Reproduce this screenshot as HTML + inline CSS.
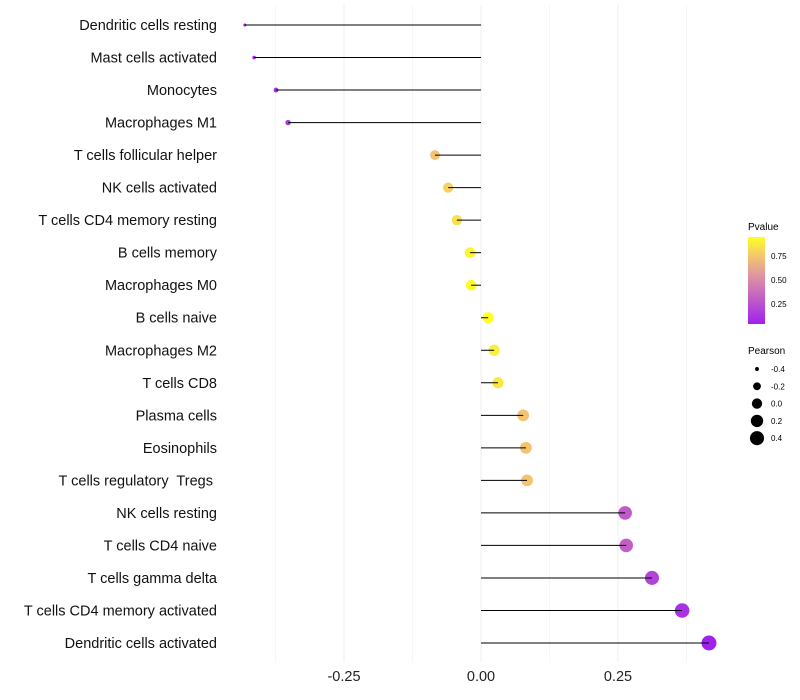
<!DOCTYPE html>
<html><head><meta charset="utf-8"><style>
body{margin:0;background:#fff;font-family:"Liberation Sans",sans-serif}
svg{display:block}
text{white-space:pre}
</style></head><body>
<svg id="chart" width="800" height="700">
<defs><linearGradient id="pg" x1="0" y1="1" x2="0" y2="0">
<stop offset="0" stop-color="#A020F0"/><stop offset="0.5" stop-color="#D88AA8"/><stop offset="0.75" stop-color="#F2BE78"/><stop offset="1" stop-color="#FFFF22"/></linearGradient></defs>
<g id="grid"></g><g id="marks"></g><g id="stems"></g><g id="ylab"></g><g id="xlab"></g>
<g>
<text x="748" y="230" font-size="10">Pvalue</text>
<rect x="748" y="237" width="17" height="87" fill="url(#pg)"/>
<text x="771" y="259" font-size="8">0.75</text>
<text x="771" y="283" font-size="8">0.50</text>
<text x="771" y="307" font-size="8">0.25</text>
<text x="748" y="354" font-size="10">Pearson</text>
<g id="sizeleg"></g>
</g>
</svg>
<script>
const categories=["Dendritic cells resting","Mast cells activated","Monocytes","Macrophages M1","T cells follicular helper","NK cells activated","T cells CD4 memory resting","B cells memory","Macrophages M0","B cells naive","Macrophages M2","T cells CD8","Plasma cells","Eosinophils","T cells regulatory  Tregs ","NK cells resting","T cells CD4 naive","T cells gamma delta","T cells CD4 memory activated","Dendritic cells activated"];
const pearson=[-0.431,-0.414,-0.374,-0.352,-0.084,-0.060,-0.044,-0.020,-0.018,0.013,0.024,0.031,0.077,0.082,0.084,0.263,0.265,0.312,0.367,0.416];
const pvalue=[0.05,0.07,0.1,0.15,0.75,0.8,0.85,0.93,0.95,0.96,0.9,0.88,0.75,0.75,0.75,0.3,0.32,0.2,0.12,0.05];
const xTicks=[-0.25,0,0.25];
const xTickLabels=["-0.25","0.00","0.25"];
const sizeLegend=[-0.4,-0.2,0.0,0.2,0.4];
const NS="http://www.w3.org/2000/svg";
const xs=v=>481+v*548;
const ys=i=>25+i*(618/19);
const rs=v=>Math.sqrt(Math.max(1.8,29.6+63.5*v));
function mix(a,b,t){return a.map((x,i)=>Math.round(x+(b[i]-x)*t));}
const stops=[[0,[160,32,240]],[0.5,[216,138,168]],[0.75,[242,190,120]],[1,[255,255,34]]];
function col(p){const t=Math.min(1,Math.max(0,(p-0.05)/0.91));for(let i=1;i<stops.length;i++){if(t<=stops[i][0]){const a=stops[i-1],b=stops[i];const c=mix(a[1],b[1],(t-a[0])/(b[0]-a[0]));return`rgb(${c})`;}}return"rgb(255,255,34)";}
function el(t,a,p){const e=document.createElementNS(NS,t);for(const k in a)e.setAttribute(k,a[k]);p.appendChild(e);return e;}
const grid=document.getElementById('grid');
[-0.375,-0.25,-0.125,0,0.125,0.25,0.375].forEach(v=>{
const l=el('line',{x1:xs(v),x2:xs(v),y1:5,y2:662,stroke:Math.abs(v*8)%2===1?'#f6f6f6':'#efefef','stroke-width':1},grid);


});
const marks=document.getElementById('marks'),stems=document.getElementById('stems'),yl=document.getElementById('ylab'),xl=document.getElementById('xlab');
categories.forEach((c,i)=>{
const y=ys(i);
const d=el('circle',{cx:xs(pearson[i]),cy:y,r:rs(pearson[i]),fill:col(pvalue[i])},marks);


const s=el('line',{x1:xs(0),x2:xs(pearson[i]),y1:y,y2:y,stroke:'#000','stroke-width':1},stems);


const t=el('text',{x:217,y:y+5,'text-anchor':'end','font-size':14.5,fill:'#111'},yl);
t.textContent=c;


});
xTicks.forEach((v,i)=>{
const t=el('text',{x:xs(v),y:681,'text-anchor':'middle','font-size':14.5,fill:'#222'},xl);
t.textContent=xTickLabels[i];


});
const sl=document.getElementById('sizeleg');
sizeLegend.forEach((v,i)=>{
const y=369+i*17.3;
const c=el('circle',{cx:757,cy:y,r:rs(v)*0.95,fill:'#000'},sl);


const t=el('text',{x:771,y:y+3,'font-size':8},sl);
t.textContent=v.toFixed(1);


});
</script>
</body></html>
